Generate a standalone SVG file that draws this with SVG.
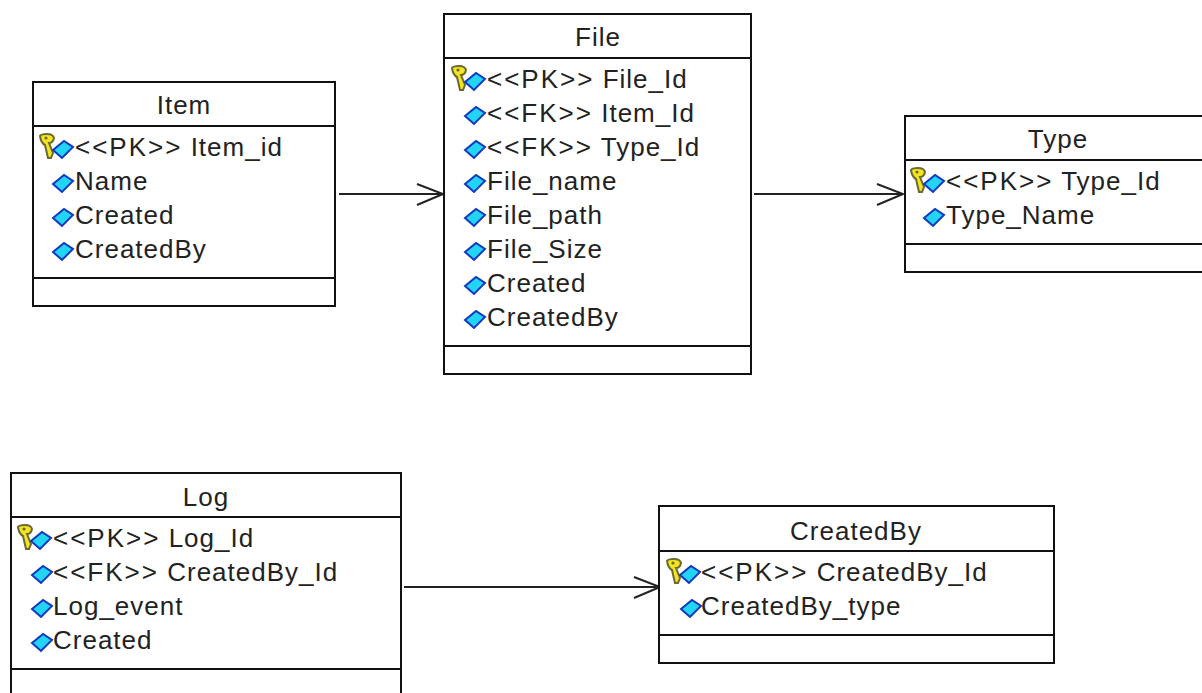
<svg xmlns="http://www.w3.org/2000/svg" xmlns:xlink="http://www.w3.org/1999/xlink" width="1202" height="693" viewBox="0 0 1202 693">
<style>
.box{fill:#fff;stroke:#111;stroke-width:2}
.sep{stroke:#111;stroke-width:2;fill:none}
text{font-family:"Liberation Sans",Arial,sans-serif;font-size:26px;fill:#222;letter-spacing:1px}
.title{text-anchor:middle}
.st{letter-spacing:2px}
.conn{stroke:#222;stroke-width:2;fill:none}
</style>
<defs>
<g id="dia"><path d="M1,1 L12,-8 L21,-2 L10,9 Z" fill="#22d4f5" stroke="#1038c0" stroke-width="2"/></g>
<g id="key"><path d="M-10,-15 Q-9,-17 -3,-17 Q3,-17 4,-13 Q3,-8 -1,-8 L3,2 L1,7 L-2,7 L-5,-6 Q-9,-8 -10,-15 Z" fill="#f5e420" stroke="#6a6a30" stroke-width="2"/><circle cx="-4" cy="-13" r="1.6" fill="#6a6a30"/></g>
</defs>
<g id="connectors">
<path class="conn" d="M339,194H442M417,184L443,194L417,205"/>
<path class="conn" d="M754,194H901M877,184L903,194L877,205"/>
<path class="conn" d="M404,587H657M634,577L660,587L634,598"/>
</g>
<g id="item">
<rect class="box" x="33" y="82" width="302" height="224"/>
<path class="sep" d="M33,126H335M33,278H335"/>
<text class="title" x="184" y="114">Item</text>
<use xlink:href="#key" x="50" y="151"/><use xlink:href="#dia" x="52" y="149"/>
<text x="75" y="156"><tspan class="st">&lt;&lt;PK&gt;&gt;</tspan> Item_id</text>
<use xlink:href="#dia" x="52" y="183"/><text x="75" y="190">Name</text>
<use xlink:href="#dia" x="52" y="217"/><text x="75" y="224">Created</text>
<use xlink:href="#dia" x="52" y="251"/><text x="75" y="258">CreatedBy</text>
</g>
<g id="file">
<rect class="box" x="444" y="14" width="307" height="360"/>
<path class="sep" d="M444,58H751M444,346H751"/>
<text class="title" x="598" y="46">File</text>
<use xlink:href="#key" x="462" y="83"/><use xlink:href="#dia" x="464" y="81"/>
<text x="487" y="88"><tspan class="st">&lt;&lt;PK&gt;&gt;</tspan> File_Id</text>
<use xlink:href="#dia" x="464" y="115"/><text x="487" y="122"><tspan class="st">&lt;&lt;FK&gt;&gt;</tspan> Item_Id</text>
<use xlink:href="#dia" x="464" y="149"/><text x="487" y="156"><tspan class="st">&lt;&lt;FK&gt;&gt;</tspan> Type_Id</text>
<use xlink:href="#dia" x="464" y="183"/><text x="487" y="190">File_name</text>
<use xlink:href="#dia" x="464" y="217"/><text x="487" y="224">File_path</text>
<use xlink:href="#dia" x="464" y="251"/><text x="487" y="258">File_Size</text>
<use xlink:href="#dia" x="464" y="285"/><text x="487" y="292">Created</text>
<use xlink:href="#dia" x="464" y="319"/><text x="487" y="326">CreatedBy</text>
</g>
<g id="type">
<rect class="box" x="905" y="116" width="310" height="156"/>
<path class="sep" d="M905,160H1215M905,244H1215"/>
<text class="title" x="1058" y="148">Type</text>
<use xlink:href="#key" x="921" y="185"/><use xlink:href="#dia" x="923" y="183"/>
<text x="946" y="190"><tspan class="st">&lt;&lt;PK&gt;&gt;</tspan> Type_Id</text>
<use xlink:href="#dia" x="923" y="217"/><text x="946" y="224">Type_Name</text>
</g>
<g id="log">
<rect class="box" x="11" y="473" width="390" height="240"/>
<path class="sep" d="M11,517H401M11,669H401"/>
<text class="title" x="206" y="506">Log</text>
<use xlink:href="#key" x="28" y="542"/><use xlink:href="#dia" x="30" y="540"/>
<text x="53" y="547"><tspan class="st">&lt;&lt;PK&gt;&gt;</tspan> Log_Id</text>
<use xlink:href="#dia" x="31" y="574"/><text x="53" y="581"><tspan class="st">&lt;&lt;FK&gt;&gt;</tspan> CreatedBy_Id</text>
<use xlink:href="#dia" x="31" y="608"/><text x="53" y="615">Log_event</text>
<use xlink:href="#dia" x="31" y="642"/><text x="53" y="649">Created</text>
</g>
<g id="createdby">
<rect class="box" x="659" y="506" width="395" height="157"/>
<path class="sep" d="M659,551H1054M659,635H1054"/>
<text class="title" x="856" y="540">CreatedBy</text>
<use xlink:href="#key" x="677" y="576"/><use xlink:href="#dia" x="679" y="574"/>
<text x="701" y="581"><tspan class="st">&lt;&lt;PK&gt;&gt;</tspan> CreatedBy_Id</text>
<use xlink:href="#dia" x="680" y="608"/><text x="701" y="615">CreatedBy_type</text>
</g>
</svg>
